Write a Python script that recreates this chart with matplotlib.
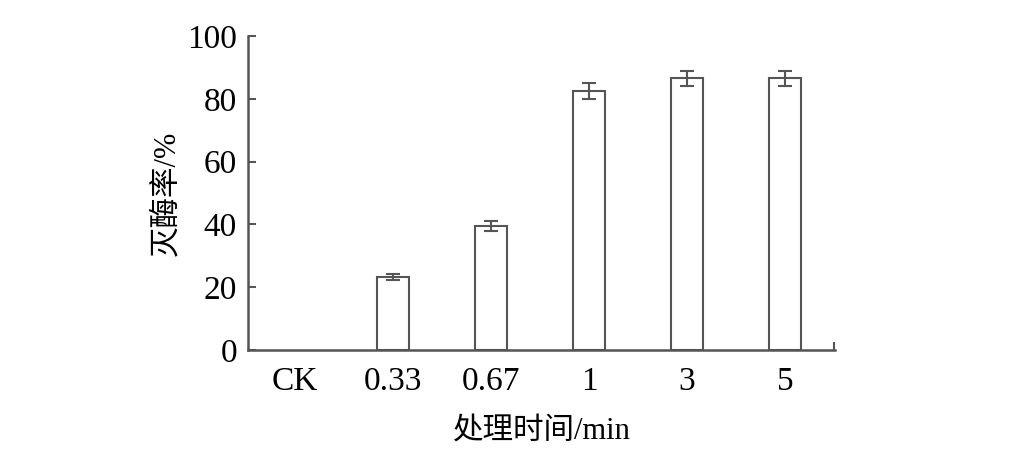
import matplotlib.pyplot as plt
import numpy as np

plt.rcParams['font.family'] = ['Liberation Serif', 'Noto Sans CJK SC']

labels = ['CK', '0.33', '0.67', '1', '3', '5']
rate = [0, 23.2, 39.5, 82.5, 86.5, 86.5]
err = [0, 1.0, 1.5, 2.5, 2.5, 2.5]

fig = plt.figure(figsize=(10.09, 4.53), dpi=100)
ax = fig.add_axes([0.2458, 0.2274, 0.5818, 0.6931])

x = np.arange(len(labels))
c = '#555555'
ax.bar(x[1:], rate[1:], width=0.33, color='white', edgecolor=c, linewidth=1.5)
ax.errorbar(x[1:], rate[1:], yerr=err[1:], fmt='none', ecolor=c,
            elinewidth=1.5, capsize=5, capthick=1.5)

ax.set_xlim(-0.48, 5.51)
ax.set_ylim(0, 100)
ax.set_yticks([0, 20, 40, 60, 80, 100])
ax.set_xticks(x)
ax.set_xticklabels(labels)
ax.set_xticks([5.5], minor=True)
ax.tick_params(axis='y', direction='in', length=6, width=1.5, color=c,
               labelsize=24, pad=8)
ax.tick_params(axis='x', length=0, labelsize=24, pad=12)
ax.tick_params(axis='x', which='minor', direction='in', length=6, width=1.5, color=c)

for s in ['top', 'right']:
    ax.spines[s].set_visible(False)
for s in ['left', 'bottom']:
    ax.spines[s].set_color(c)
    ax.spines[s].set_linewidth(1.8)

ax.set_ylabel('灭酶率/%', fontsize=22, labelpad=4)
ax.set_xlabel('处理时间/min', fontsize=22, labelpad=14)

fig.savefig('out.png', dpi=100)
